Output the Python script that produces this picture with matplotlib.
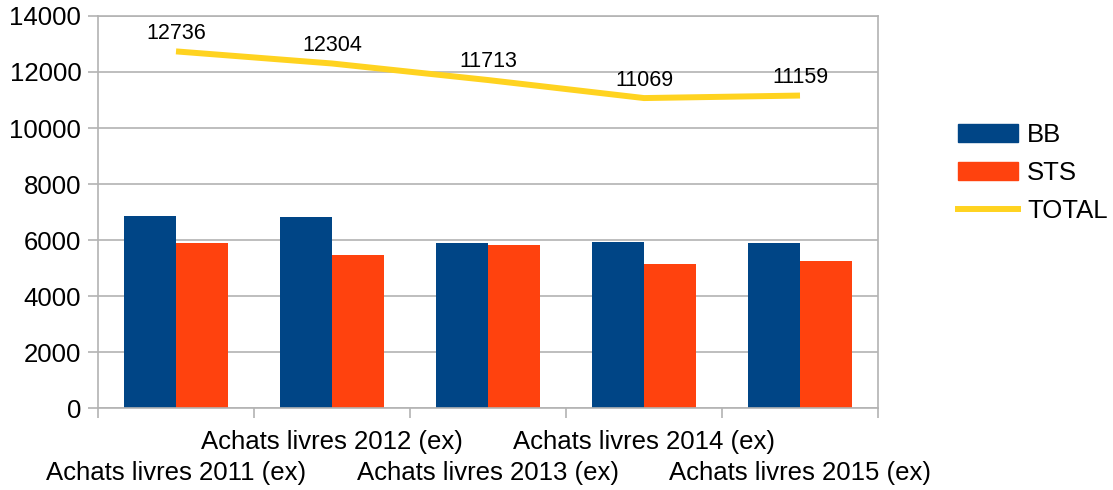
import matplotlib.pyplot as plt
import numpy as np
from matplotlib.patches import Patch
from matplotlib.lines import Line2D

plt.rcParams['font.family'] = ['Liberation Sans', 'DejaVu Sans']

categories = ["Achats livres 2011 (ex)", "Achats livres 2012 (ex)", "Achats livres 2013 (ex)",
              "Achats livres 2014 (ex)", "Achats livres 2015 (ex)"]
bb = [6846, 6836, 5893, 5929, 5900]
sts = [5890, 5468, 5820, 5140, 5259]
total = [12736, 12304, 11713, 11069, 11159]

c_bb = "#004586"
c_sts = "#ff420e"
c_tot = "#ffd320"
grid_c = "#b3b3b3"
fs = 18.5

fig = plt.figure(figsize=(11.13, 4.90), dpi=100)
ax = fig.add_axes([98 / 1113, 1 - 408 / 490, 780 / 1113, 392 / 490])

x = np.arange(len(categories))
w = 1 / 3
ax.bar(x - w / 2, bb, width=w, color=c_bb, zorder=2)
ax.bar(x + w / 2, sts, width=w, color=c_sts, zorder=2)
ax.plot(x, total, color=c_tot, lw=4.3, zorder=3, solid_capstyle='butt')
for xi, v in zip(x, total):
    ax.annotate(str(v), (xi, v), xytext=(0, 13), textcoords='offset points',
                ha='center', va='center', fontsize=15.5)

ax.set_xlim(-0.5, len(categories) - 0.5)
ax.set_ylim(0, 14000)
ax.set_yticks(np.arange(0, 14001, 2000))
ax.yaxis.grid(True, color=grid_c, lw=1.2, zorder=0)
ax.set_axisbelow(True)

# category boundaries as ticks, staggered category labels
ax.set_xticks(np.arange(-0.5, len(categories), 1))
ax.set_xticklabels([])
ax.tick_params(axis='x', length=7, color=grid_c, width=1.2)
ax.tick_params(axis='y', length=7, color=grid_c, width=1.2, labelsize=fs, pad=5)
for i, c in enumerate(categories):
    off = -46.5 if i % 2 == 0 else -24.5
    ax.annotate(c, (i, 0), xycoords=('data', 'axes fraction'), xytext=(0, off),
                textcoords='offset points', ha='center', va='center', fontsize=fs)

for s in ax.spines.values():
    s.set_color(grid_c)
    s.set_linewidth(1.2)

handles = [Patch(color=c_bb), Patch(color=c_sts), Line2D([], [], color=c_tot, lw=4.3)]
fig.legend(handles, ["BB", "STS", "TOTAL"], loc='center left',
           bbox_to_anchor=(958 / 1113, 1 - 173 / 490), frameon=False, fontsize=fs,
           borderpad=0, borderaxespad=0, handlelength=2.34, handleheight=0.66,
           handletextpad=0.35, labelspacing=0.55)

fig.savefig("out.png", dpi=100)
